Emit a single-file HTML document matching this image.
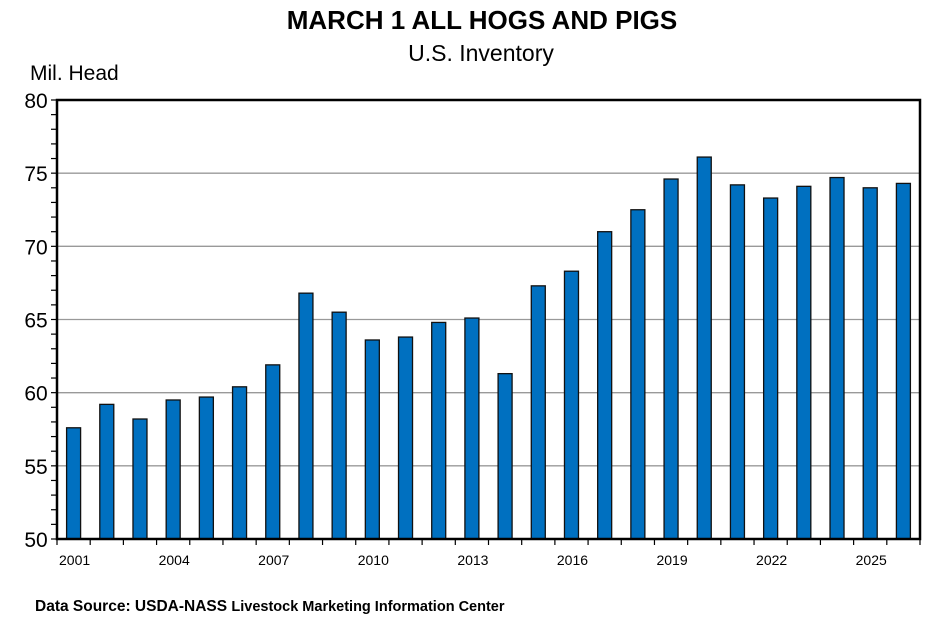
<!DOCTYPE html>
<html><head><meta charset="utf-8"><style>
html,body{margin:0;padding:0;background:#fff;}
svg{display:block;font-family:"Liberation Sans",sans-serif;}
</style></head><body>
<svg width="936" height="626" viewBox="0 0 936 626" xmlns="http://www.w3.org/2000/svg">
<text x="482" y="29" text-anchor="middle" font-size="26" font-weight="bold">MARCH 1 ALL HOGS AND PIGS</text>
<text x="481" y="61" text-anchor="middle" font-size="23">U.S. Inventory</text>
<text x="30" y="80" font-size="21">Mil. Head</text>
<g id="grid" stroke="#999" stroke-width="1.3"></g>
<g id="bars"></g>
<g id="axes"></g>
<text x="35" y="611" font-size="15.5" font-weight="bold">Data Source:  USDA-NASS <tspan font-size="14.5">Livestock Marketing Information Center</tspan></text>
</svg>
<script>
const vals=[57.6,59.2,58.2,59.5,59.7,60.4,61.9,66.8,65.5,63.6,63.8,64.8,65.1,61.3,67.3,68.3,71.0,72.5,74.6,76.1,74.2,73.3,74.1,74.7,74.0,74.3];
const L=57,R=920,T=100,B=539,ns="http://www.w3.org/2000/svg";
const y=v=>B-(v-50)*(B-T)/30;const cw=(R-L)/26;
function el(p,t,a,txt){const e=document.createElementNS(ns,t);for(const k in a)e.setAttribute(k,a[k]);if(txt)e.textContent=txt;document.getElementById(p).appendChild(e);}
for(let v=55;v<80;v+=5)el('grid','line',{x1:L,x2:R,y1:y(v),y2:y(v)});
vals.forEach((v,i)=>{const c=L+cw*(i+0.5);el('bars','rect',{x:c-7,y:y(v),width:14,height:B-y(v),fill:'#0070c0',stroke:'#111','stroke-width':1.3});
 if(i%3==0||i==24)el('axes','text',{x:c+1,y:565,'text-anchor':'middle','font-size':14},String(2001+i));});
for(let v=50;v<=80;v++)el('axes','line',{x1:51,x2:L,y1:y(v),y2:y(v),stroke:'#000','stroke-width':1.2});
for(let v=50;v<=80;v+=5)el('axes','text',{x:36,y:y(v)+8,'text-anchor':'middle','font-size':21},String(v));
for(let i=0;i<=26;i++){const x=L+cw*i;el('axes','line',{x1:x,x2:x,y1:B,y2:B+6,stroke:'#000','stroke-width':1.2});}
el('axes','rect',{x:L,y:T,width:R-L,height:B-T,fill:'none',stroke:'#000','stroke-width':2.5});
</script>
</body></html>
